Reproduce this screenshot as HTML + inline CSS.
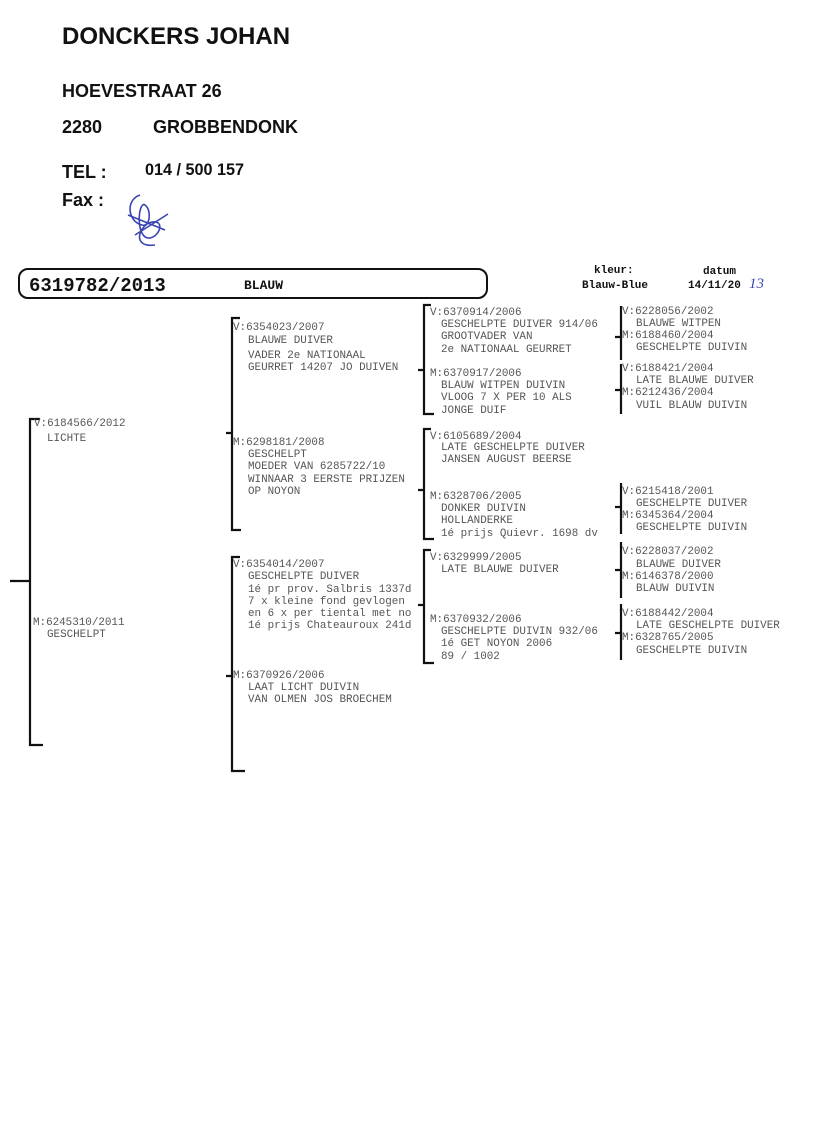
<!DOCTYPE html>
<html><head><meta charset="utf-8"><style>
html,body{margin:0;padding:0;background:#fff;}
body{width:816px;height:1129px;position:relative;overflow:hidden;}
svg{position:absolute;left:0;top:0;}
.h{font-family:"Liberation Sans",sans-serif;font-weight:bold;fill:#111;}
.t{font-family:"Liberation Mono",monospace;font-size:10.9px;fill:#555;}
.b{font-family:"Liberation Mono",monospace;font-weight:bold;fill:#111;}
</style></head><body>
<svg width="816" height="1129" viewBox="0 0 816 1129">
<text class="h" x="62" y="44" font-size="24">DONCKERS JOHAN</text>
<text class="h" x="62" y="97" font-size="18">HOEVESTRAAT 26</text>
<text class="h" x="62" y="133" font-size="18">2280</text>
<text class="h" x="153" y="133" font-size="18">GROBBENDONK</text>
<text class="h" x="62" y="178" font-size="18">TEL :</text>
<text class="h" x="145" y="175" font-size="16.2">014 / 500 157</text>
<text class="h" x="62" y="206" font-size="18">Fax :</text>
<path d="M140 195 C125 200 128 222 142 225 C150 228 152 210 145 205 C138 200 135 240 150 238 C160 236 165 220 152 222 C140 224 130 248 155 245 M128 215 L165 230 M135 235 L168 214" stroke="#3a44b0" stroke-width="1.6" fill="none"/>
<rect x="19" y="269" width="468" height="29" rx="9" fill="none" stroke="#111" stroke-width="2"/>
<text class="b" x="29" y="291" font-size="19">6319782/2013</text>
<text class="b" x="244" y="289" font-size="13">BLAUW</text>
<text class="b" x="594" y="273" font-size="11">kleur:</text>
<text class="b" x="582" y="288" font-size="11">Blauw-Blue</text>
<text class="b" x="703" y="274" font-size="11">datum</text>
<text class="b" x="688" y="288" font-size="11">14/11/20</text>
<text x="749" y="288" font-size="15" font-family="Liberation Serif,serif" font-style="italic" fill="#3a44b0">13</text>
<g stroke="#111" stroke-width="2.2" fill="none">
<path d="M40 419 H30 V745 H43 M10 581 H30"/>
<path d="M240 318 H232 V530 H241 M226 433 H232"/>
<path d="M240 557 H232 V771 H245 M226 676 H232"/>
<path d="M431 305 H424 V414 H434 M418 370 H424"/>
<path d="M431 429 H424 V539 H434 M418 490 H424"/>
<path d="M431 550 H424 V663 H434 M418 605 H424"/>
<path d="M621 306 V360 M615 337 H621"/>
<path d="M621 364 V414 M615 390 H621"/>
<path d="M621 483 V534 M615 507 H621"/>
<path d="M621 542 V598 M615 570 H621"/>
<path d="M621 604 V660 M615 633 H621"/>
</g>
<g class="t">
<text x="34" y="426">V:6184566/2012</text><text x="47" y="441">LICHTE</text>
<text x="33" y="625">M:6245310/2011</text><text x="47" y="637">GESCHELPT</text>
<text x="233" y="330">V:6354023/2007</text><text x="248" y="343">BLAUWE DUIVER</text><text x="248" y="358">VADER 2e NATIONAAL</text><text x="248" y="370">GEURRET 14207 JO DUIVEN</text>
<text x="233" y="445">M:6298181/2008</text><text x="248" y="457">GESCHELPT</text><text x="248" y="469">MOEDER VAN 6285722/10</text><text x="248" y="482">WINNAAR 3 EERSTE PRIJZEN</text><text x="248" y="494">OP NOYON</text>
<text x="233" y="567">V:6354014/2007</text><text x="248" y="579">GESCHELPTE DUIVER</text><text x="248" y="592">1é pr prov. Salbris 1337d</text><text x="248" y="604">7 x kleine fond gevlogen</text><text x="248" y="616">en 6 x per tiental met no</text><text x="248" y="628">1é prijs Chateauroux 241d</text>
<text x="233" y="678">M:6370926/2006</text><text x="248" y="690">LAAT LICHT DUIVIN</text><text x="248" y="702">VAN OLMEN JOS BROECHEM</text>
<text x="430" y="315">V:6370914/2006</text><text x="441" y="327">GESCHELPTE DUIVER 914/06</text><text x="441" y="339">GROOTVADER VAN</text><text x="441" y="352">2e NATIONAAL GEURRET</text>
<text x="430" y="376">M:6370917/2006</text><text x="441" y="388">BLAUW WITPEN DUIVIN</text><text x="441" y="400">VLOOG 7 X  PER 10 ALS</text><text x="441" y="413">JONGE DUIF</text>
<text x="430" y="439">V:6105689/2004</text><text x="441" y="450">LATE GESCHELPTE DUIVER</text><text x="441" y="462">JANSEN AUGUST BEERSE</text>
<text x="430" y="499">M:6328706/2005</text><text x="441" y="511">DONKER DUIVIN</text><text x="441" y="523">HOLLANDERKE</text><text x="441" y="536">1é prijs Quievr. 1698 dv</text>
<text x="430" y="560">V:6329999/2005</text><text x="441" y="572">LATE BLAUWE DUIVER</text>
<text x="430" y="622">M:6370932/2006</text><text x="441" y="634">GESCHELPTE DUIVIN 932/06</text><text x="441" y="646">1é GET NOYON 2006</text><text x="441" y="659">89 / 1002</text>
<text x="622" y="314">V:6228056/2002</text><text x="636" y="326">BLAUWE WITPEN</text><text x="622" y="338">M:6188460/2004</text><text x="636" y="350">GESCHELPTE DUIVIN</text>
<text x="622" y="371">V:6188421/2004</text><text x="636" y="383">LATE BLAUWE DUIVER</text><text x="622" y="395">M:6212436/2004</text><text x="636" y="408">VUIL BLAUW DUIVIN</text>
<text x="622" y="494">V:6215418/2001</text><text x="636" y="506">GESCHELPTE DUIVER</text><text x="622" y="518">M:6345364/2004</text><text x="636" y="530">GESCHELPTE DUIVIN</text>
<text x="622" y="554">V:6228037/2002</text><text x="636" y="567">BLAUWE DUIVER</text><text x="622" y="579">M:6146378/2000</text><text x="636" y="591">BLAUW DUIVIN</text>
<text x="622" y="616">V:6188442/2004</text><text x="636" y="628">LATE GESCHELPTE DUIVER</text><text x="622" y="640">M:6328765/2005</text><text x="636" y="653">GESCHELPTE DUIVIN</text>
</g>
</svg>
</body></html>
